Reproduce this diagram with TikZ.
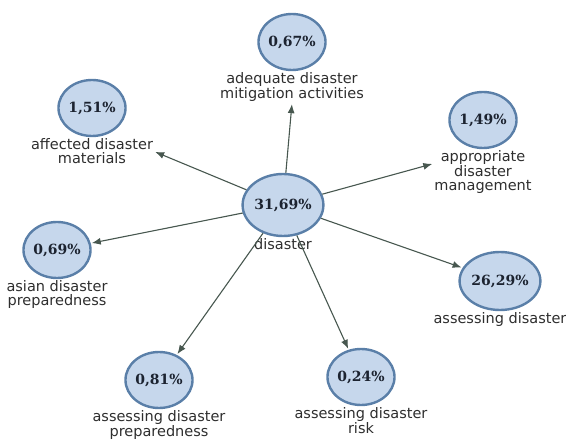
\documentclass[tikz,border=0pt]{standalone}
\usepackage{fontspec}
\setmainfont{DejaVu Sans}
\newfontfamily\pctfont{DejaVu Serif}
\usetikzlibrary{arrows.meta, positioning, shapes.geometric}
\definecolor{bubblefill}{HTML}{C6D7EC}
\definecolor{bubbleedge}{HTML}{5A7FA8}
\definecolor{arrowgray}{HTML}{47574F}
\definecolor{pcttext}{HTML}{1C2330}

\begin{document}
\begin{tikzpicture}[x=1pt, y=-1pt,
  node distance=0.5pt,
  bubble/.style={ellipse, draw=bubbleedge, line width=2.4pt, fill=bubblefill, minimum width=62pt, minimum height=56pt, inner sep=0pt, font=\pctfont\bfseries\fontsize{14}{14}\selectfont, text=pcttext},
  hub/.style={bubble, minimum width=76pt, minimum height=62pt},
  tag/.style={align=center, font=\fontsize{14.5}{14}\selectfont, text=black!82, inner sep=1pt},
  arr/.style={-{Latex[length=9pt, width=7pt]}, draw=arrowgray, line width=1.1pt, shorten >=1pt}
]
\useasboundingbox (0,0) rectangle (566,443);

\node[hub] (hub) at (283,205) {31,69\%};
\node[tag, below=of hub] (hubt) {disaster};

\node[bubble] (mit) at (292,42) {0,67\%};
\node[tag, below=of mit] (mitt) {adequate disaster\\mitigation activities};

\node[bubble] (aff) at (92,108) {1,51\%};
\node[tag, below=of aff] (afft) {affected disaster\\materials};

\node[bubble] (mgmt) at (483,120) {1,49\%};
\node[tag, below=of mgmt] (mgmtt) {appropriate\\disaster\\management};

\node[bubble] (asia) at (57,250) {0,69\%};
\node[tag, below=of asia] (asiat) {asian disaster\\preparedness};

\node[bubble, minimum width=68pt, minimum height=58pt] (asd) at (500,281) {26,29\%};
\node[tag, below=of asd] (asdt) {assessing disaster};

\node[bubble] (prep) at (159,380) {0,81\%};
\node[tag, below=of prep] (prept) {assessing disaster\\preparedness};

\node[bubble] (risk) at (361,377) {0,24\%};
\node[tag, below=of risk] (riskt) {assessing disaster\\risk};

\draw[arr] (hub) -- (mitt.south);
\draw[arr] (hub) -- (afft.east);
\draw[arr] (hub) -- (mgmtt.170);
\draw[arr] (hub) -- (asia);
\draw[arr] (hub) -- (asd);
\draw[arr] (hub) -- (prep);
\draw[arr] (hub) -- (risk);
\end{tikzpicture}
\end{document}
